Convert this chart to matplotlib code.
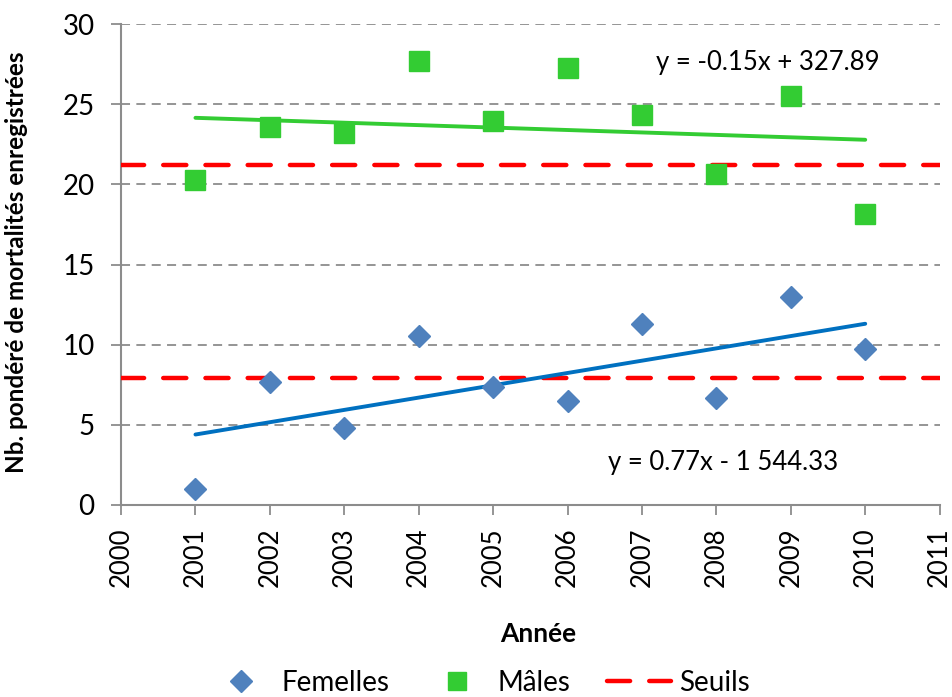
import numpy as np
import matplotlib
matplotlib.use("Agg")
import matplotlib.pyplot as plt
from matplotlib.lines import Line2D

years = [2001, 2002, 2003, 2004, 2005, 2006, 2007, 2008, 2009, 2010]
femelles = [1.0, 7.65, 4.78, 10.54, 7.38, 6.49, 11.29, 6.65, 12.99, 9.73]
males = [20.27, 23.6, 23.2, 27.7, 23.97, 27.24, 24.35, 20.65, 25.53, 18.15]
seuil_males = 21.2
seuil_femelles = 7.92
eq_males = "y = -0.15x + 327.89"
eq_femelles = "y = 0.77x - 1 544.33"
xticks = list(range(2000, 2012))
yticks = [0, 5, 10, 15, 20, 25, 30]

plt.rcParams['font.family'] = ['Lato', 'DejaVu Sans']

fig = plt.figure(figsize=(9.53, 6.97), dpi=100)
ax = fig.add_axes([0.127, 0.2755, 0.859, 0.69])

ax.set_xlim(2000, 2011)
ax.set_ylim(0, 30)

for yv in yticks[1:]:
    ax.axhline(yv, color='#8c8c8c', lw=1.3, ls=(0, (5, 3.5)), zorder=1)

red_dash = (0, (5.2, 4.3))
for s in (seuil_males, seuil_femelles):
    ax.plot([2000, 2011], [s, s], color='#FF0000', lw=3.2, ls=red_dash,
            dash_capstyle='round', zorder=3)

yrs = np.array(years, dtype=float)
pf = np.polyfit(yrs, femelles, 1)
pm = np.polyfit(yrs, males, 1)
xx = np.array([years[0], years[-1]], dtype=float)
ax.plot(xx, np.polyval(pf, xx), color='#0070C0', lw=2.8, solid_capstyle='round', zorder=4)
ax.plot(xx, np.polyval(pm, xx), color='#33CC33', lw=2.8, solid_capstyle='round', zorder=4)

ax.plot(years, femelles, 'D', color='#4F81BD', markersize=11.5, mec='#4F81BD', zorder=5)
ax.plot(years, males, 's', color='#33CC33', markersize=14, mec='#33CC33', zorder=5)

ax.text(2008.69, 27.6, eq_males, fontsize=18.5, ha='center', va='center', color='black')
ax.text(2008.09, 2.68, eq_femelles, fontsize=18.5, ha='center', va='center', color='black')

for sp in ['top', 'right']:
    ax.spines[sp].set_visible(False)
for sp in ['left', 'bottom']:
    ax.spines[sp].set_color('#8c8c8c')
    ax.spines[sp].set_linewidth(1.5)

ax.set_xticks(xticks)
ax.set_xticklabels([str(x) for x in xticks], rotation=90, fontsize=18.5)
ax.set_yticks(yticks)
ax.set_yticklabels([str(y) for y in yticks], fontsize=20)
ax.tick_params(axis='both', colors='#8c8c8c', length=7, width=1.3, labelcolor='black')
ax.tick_params(axis='x', pad=9)
ax.tick_params(axis='y', pad=12)

ax.set_xlabel('Année', fontsize=19, fontweight='bold')
ax.xaxis.set_label_coords(0.509, -0.243)
ax.set_ylabel('Nb. pondéré de mortalités enregistrées', fontsize=17.5, fontweight='bold')
ax.yaxis.set_label_coords(-0.1136, 0.505)

handles = [
    Line2D([], [], marker='D', ls='none', color='#4F81BD', markersize=11),
    Line2D([], [], marker='s', ls='none', color='#33CC33', markersize=13),
    Line2D([], [], color='#FF0000', lw=3.2, ls=red_dash, dash_capstyle='round'),
]
fig.legend(handles, ['Femelles', 'Mâles', 'Seuils'], loc='center', bbox_to_anchor=(0.503, 0.02),
           ncol=3, frameon=False, fontsize=20, handlelength=2.3, columnspacing=1.3,
           handletextpad=0.3)

fig.savefig('out.png', dpi=100)
